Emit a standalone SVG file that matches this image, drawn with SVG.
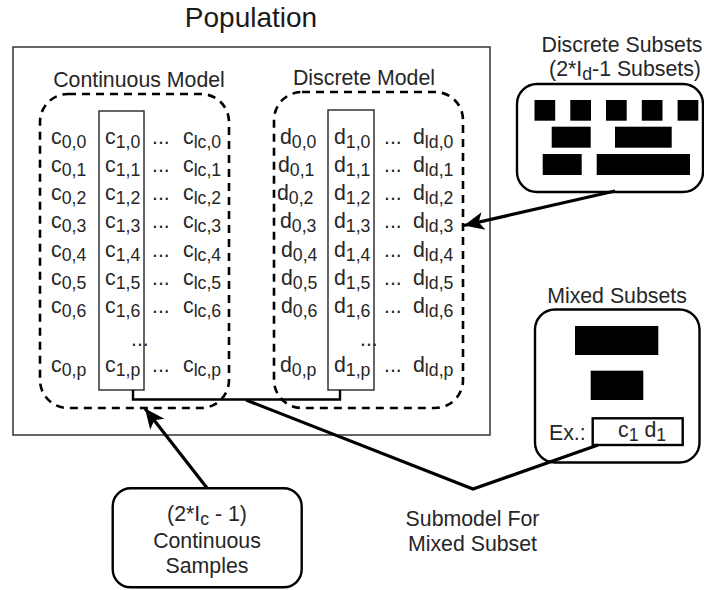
<svg xmlns="http://www.w3.org/2000/svg" width="704" height="590" viewBox="0 0 704 590">
<style>
text{font-family:"Liberation Sans",Arial,sans-serif;font-size:21.3px;fill:#262626}
.t{text-anchor:middle}
.s{font-size:17.7px}
.pop{fill:none;stroke:#333;stroke-width:1.5}
.dash{fill:none;stroke:#000;stroke-width:2.6;stroke-dasharray:8 6}
.col{fill:#fff;stroke:#333;stroke-width:1.5}
.box{fill:#fff;stroke:#000;stroke-width:2.4}
.blk{fill:#000}
.conn{fill:none;stroke:#000;stroke-width:3.2;stroke-linejoin:miter}
</style>
<defs>
<marker id="ah" markerUnits="userSpaceOnUse" markerWidth="22" markerHeight="20" viewBox="0 0 22 20" refX="20" refY="10" orient="auto">
<path d="M0,1 L20,10 L0,19 L5,10 Z" fill="#000"/>
</marker>
</defs>
<g id="population">
<rect class="pop" x="13" y="47" width="477" height="388"/>
<text class="t" x="251" y="27" style="font-size:28px;fill:#1a1a1a">Population</text>
</g>
<g id="continuous-model">
<text class="t" x="139" y="87">Continuous Model</text>
<rect class="dash" x="40" y="94" width="189" height="314" rx="28"/>
<rect class="col" x="99" y="111" width="45" height="279"/>
<g>
<text x="51" y="143.5">c<tspan class="s" dy="4">0,0</tspan></text>
<text x="51" y="171.8">c<tspan class="s" dy="4">0,1</tspan></text>
<text x="51" y="200.1">c<tspan class="s" dy="4">0,2</tspan></text>
<text x="51" y="228.4">c<tspan class="s" dy="4">0,3</tspan></text>
<text x="51" y="256.7">c<tspan class="s" dy="4">0,4</tspan></text>
<text x="51" y="285">c<tspan class="s" dy="4">0,5</tspan></text>
<text x="51" y="313.3">c<tspan class="s" dy="4">0,6</tspan></text>
<text x="51" y="371.5">c<tspan class="s" dy="4">0,p</tspan></text>
<text x="105" y="143.5">c<tspan class="s" dy="4">1,0</tspan></text>
<text x="105" y="171.8">c<tspan class="s" dy="4">1,1</tspan></text>
<text x="105" y="200.1">c<tspan class="s" dy="4">1,2</tspan></text>
<text x="105" y="228.4">c<tspan class="s" dy="4">1,3</tspan></text>
<text x="105" y="256.7">c<tspan class="s" dy="4">1,4</tspan></text>
<text x="105" y="285">c<tspan class="s" dy="4">1,5</tspan></text>
<text x="105" y="313.3">c<tspan class="s" dy="4">1,6</tspan></text>
<text x="131" y="346">...</text>
<text x="105" y="371.5">c<tspan class="s" dy="4">1,p</tspan></text>
<text x="152" y="143.5">...</text>
<text x="152" y="171.8">...</text>
<text x="152" y="200.1">...</text>
<text x="152" y="228.4">...</text>
<text x="152" y="256.7">...</text>
<text x="152" y="285">...</text>
<text x="152" y="313.3">...</text>
<text x="152" y="371.5">...</text>
<text x="183" y="143.5">c<tspan class="s" dy="4">lc,0</tspan></text>
<text x="183" y="171.8">c<tspan class="s" dy="4">lc,1</tspan></text>
<text x="183" y="200.1">c<tspan class="s" dy="4">lc,2</tspan></text>
<text x="183" y="228.4">c<tspan class="s" dy="4">lc,3</tspan></text>
<text x="183" y="256.7">c<tspan class="s" dy="4">lc,4</tspan></text>
<text x="183" y="285">c<tspan class="s" dy="4">lc,5</tspan></text>
<text x="183" y="313.3">c<tspan class="s" dy="4">lc,6</tspan></text>
<text x="183" y="371.5">c<tspan class="s" dy="4">lc,p</tspan></text>
</g>
</g>
<g id="discrete-model">
<text class="t" x="364" y="85">Discrete Model</text>
<rect class="dash" x="274" y="92" width="189" height="316" rx="28"/>
<rect class="col" x="328" y="110" width="46" height="280"/>
<g>
<text x="280" y="143.5">d<tspan class="s" dy="4">0,0</tspan></text>
<text x="278" y="171.8">d<tspan class="s" dy="4">0,1</tspan></text>
<text x="277" y="200.1">d<tspan class="s" dy="4">0,2</tspan></text>
<text x="280" y="228.4">d<tspan class="s" dy="4">0,3</tspan></text>
<text x="281" y="256.7">d<tspan class="s" dy="4">0,4</tspan></text>
<text x="281" y="285">d<tspan class="s" dy="4">0,5</tspan></text>
<text x="281" y="313.3">d<tspan class="s" dy="4">0,6</tspan></text>
<text x="280" y="371.5">d<tspan class="s" dy="4">0,p</tspan></text>
<text x="334" y="143.5">d<tspan class="s" dy="4">1,0</tspan></text>
<text x="334" y="171.8">d<tspan class="s" dy="4">1,1</tspan></text>
<text x="334" y="200.1">d<tspan class="s" dy="4">1,2</tspan></text>
<text x="334" y="228.4">d<tspan class="s" dy="4">1,3</tspan></text>
<text x="334" y="256.7">d<tspan class="s" dy="4">1,4</tspan></text>
<text x="334" y="285">d<tspan class="s" dy="4">1,5</tspan></text>
<text x="334" y="313.3">d<tspan class="s" dy="4">1,6</tspan></text>
<text x="360" y="346">...</text>
<text x="334" y="371.5">d<tspan class="s" dy="4">1,p</tspan></text>
<text x="384" y="143.5">...</text>
<text x="384" y="171.8">...</text>
<text x="384" y="200.1">...</text>
<text x="384" y="228.4">...</text>
<text x="384" y="256.7">...</text>
<text x="384" y="285">...</text>
<text x="384" y="313.3">...</text>
<text x="384" y="371.5">...</text>
<text x="413" y="143.5">d<tspan class="s" dy="4">ld,0</tspan></text>
<text x="413" y="171.8">d<tspan class="s" dy="4">ld,1</tspan></text>
<text x="413" y="200.1">d<tspan class="s" dy="4">ld,2</tspan></text>
<text x="413" y="228.4">d<tspan class="s" dy="4">ld,3</tspan></text>
<text x="413" y="256.7">d<tspan class="s" dy="4">ld,4</tspan></text>
<text x="413" y="285">d<tspan class="s" dy="4">ld,5</tspan></text>
<text x="413" y="313.3">d<tspan class="s" dy="4">ld,6</tspan></text>
<text x="413" y="371.5">d<tspan class="s" dy="4">ld,p</tspan></text>
</g>
</g>
<g id="discrete-subsets">
<text class="t" x="622" y="52">Discrete Subsets</text>
<text class="t" x="625" y="76">(2*I<tspan class="s" dy="4">d</tspan><tspan dy="-4">-1 Subsets)</tspan></text>
<rect class="box" x="517" y="84" width="186" height="108" rx="20"/>
<rect class="blk" x="534.5" y="100" width="20.7" height="20.7"/>
<rect class="blk" x="570.3" y="100" width="20.7" height="20.7"/>
<rect class="blk" x="606" y="100" width="20.7" height="20.7"/>
<rect class="blk" x="641.8" y="100" width="20.7" height="20.7"/>
<rect class="blk" x="677.6" y="100" width="20.7" height="20.7"/>
<rect class="blk" x="551.7" y="126.7" width="39" height="21"/>
<rect class="blk" x="615" y="126.7" width="56.7" height="21"/>
<rect class="blk" x="542.7" y="154" width="39" height="21"/>
<rect class="blk" x="596.7" y="154" width="93.3" height="21"/>
</g>
<g id="mixed-subsets">
<text class="t" x="617" y="303">Mixed Subsets</text>
<rect class="box" x="535" y="309.5" width="164.5" height="153" rx="20"/>
<rect class="blk" x="575" y="326" width="83.3" height="29"/>
<rect class="blk" x="590.7" y="370.7" width="52.6" height="29.3"/>
<text x="549" y="440">Ex.:</text>
<rect class="box" x="592.7" y="418.3" width="90" height="26.7" rx="0"/>
<text x="618" y="437">c<tspan class="s" dy="4">1</tspan><tspan dy="-4"> d</tspan><tspan class="s" dy="4">1</tspan></text>
</g>
<g id="continuous-samples">
<rect class="box" x="112.7" y="488.3" width="189" height="99" rx="18"/>
<text class="t" x="207" y="521">(2*I<tspan class="s" dy="4">c</tspan><tspan dy="-4"> - 1)</tspan></text>
<text class="t" x="207" y="548">Continuous</text>
<text class="t" x="207" y="573">Samples</text>
</g>
<g id="submodel-label">
<text class="t" x="472.5" y="525.5">Submodel For</text>
<text class="t" x="472.5" y="550.5">Mixed Subset</text>
</g>
<g id="connectors">
<path d="M133,390 V399.5 H340 V390" fill="none" stroke="#000" stroke-width="2.4"/>
<path class="conn" d="M246,400 L473,489 L598,445"/>
<path class="conn" d="M615,191 L464,225.5" marker-end="url(#ah)"/>
<path class="conn" d="M207,488 L145,408.5" marker-end="url(#ah)"/>
</g>
</svg>
